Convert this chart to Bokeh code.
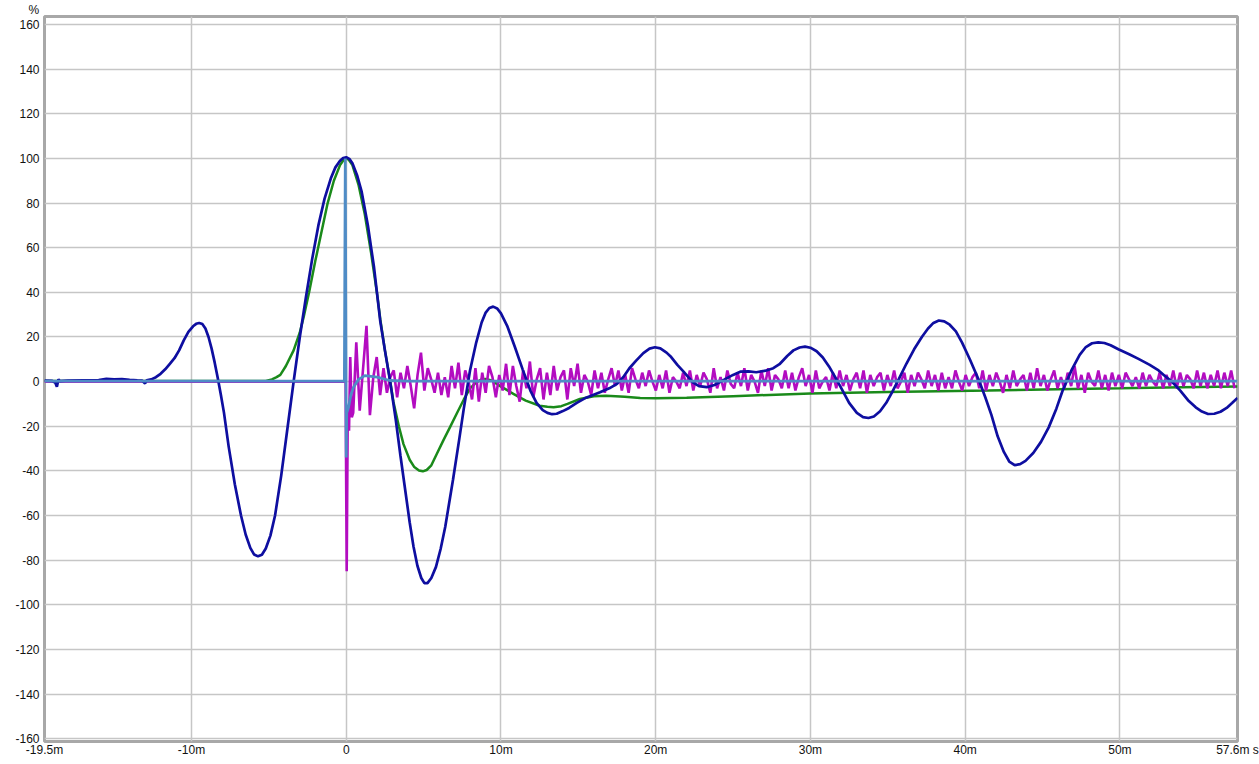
import numpy as np
from bokeh.plotting import figure
from bokeh.models import FixedTicker, Range1d, Title
from bokeh.embed import file_html
from bokeh.resources import INLINE

# ---------------- data (time in ms, amplitude in %) ----------------
x_ticks = [-19.5, -10, 0, 10, 20, 30, 40, 50, 57.6]
x_tick_labels = ["-19.5m", "-10m", "0", "10m", "20m", "30m", "40m", "50m", "57.6m s"]
y_ticks = list(range(-160, 161, 20))

blue_t = [-19.5, -19.0, -18.8, -18.7, -18.6, -18.5, -18.0, -17.0, -16.0, -15.5, -15.0, -14.5,
          -14.0, -13.5, -13.2, -13.0, -12.9, -12.6, -12.3, -12.0, -11.7, -11.4, -11.1, -10.8,
          -10.5, -10.2, -9.9, -9.7, -9.5, -9.3, -9.1, -8.9, -8.7, -8.5, -8.3, -8.1, -7.9, -7.6, -7.2,
          -6.8, -6.5, -6.2, -5.95, -5.7, -5.45, -5.2, -4.9, -4.6, -4.2, -3.8, -3.4, -3.0, -2.6, -2.2, -1.8,
          -1.4, -1.0, -0.7, -0.4, -0.2, 0.0, 0.2, 0.4, 0.7, 1.0, 1.4, 1.8, 2.2, 2.5, 2.84, 3.2, 3.5, 3.8,
          4.1, 4.35, 4.6, 4.85, 5.05, 5.25, 5.5, 5.8, 6.1, 6.4, 6.9, 7.3, 7.6, 8.0, 8.4, 8.75, 9.0, 9.25,
          9.5, 9.75, 10.0, 10.4, 10.9, 11.4, 11.9, 12.3, 12.7, 13.0, 13.3, 13.6, 14.0, 14.4, 14.9, 15.5,
          16.4, 17.0, 17.5, 17.9, 18.3, 18.75, 19.2, 19.6, 19.95, 20.3, 20.7, 21.0, 21.4, 21.8, 22.4,
          22.8, 23.3, 23.8, 24.4, 25.0, 25.5, 26.0, 26.5, 27.1, 27.6, 28.0, 28.5, 28.9, 29.3, 29.65,
          30.0, 30.4, 30.8, 31.2, 31.6, 32.0, 32.5, 33.0, 33.4, 33.75, 34.1, 34.5, 34.9, 35.3, 35.7,
          36.2, 36.7, 37.2, 37.6, 37.95, 38.3, 38.65, 39.0, 39.4, 39.8, 40.3, 40.9, 41.3, 41.7, 42.1,
          42.5, 42.85, 43.2, 43.55, 43.9, 44.4, 44.9, 45.4, 45.9, 46.3, 46.9, 47.4, 47.8, 48.2, 48.6,
          49.0, 49.4, 49.9, 50.6, 51.2, 51.9, 52.5, 53.0, 53.4, 53.9, 54.4, 54.9, 55.3, 55.7, 56.1,
          56.5, 56.9, 57.25, 57.6]
blue_v = [0.5, 0.3, -0.5, -2.3, 1.0, 0.2, 0.5, 0.6, 0.7, 1.2, 1.0, 1.1,
          0.8, 0.6, 0.5, -0.8, 0.6, 1.0, 2.0, 3.5, 5.5, 8.0, 10.5, 14.0,
          18.5, 22.3, 24.8, 25.9, 26.3, 25.8, 23.8, 20.0, 14.8, 8.5, 1.5, -6.0, -14.0, -29.0, -46.0,
          -60.0, -68.5, -74.5, -77.5, -78.3, -77.6, -74.8, -69.0, -60.0, -42.0, -21.0, 0.0, 20.0, 38.0, 55.0, 70.0,
          82.0, 91.0, 96.0, 99.0, 100.2, 100.5, 99.8, 97.8, 92.5, 85.0, 70.0, 51.0, 27.0, 14.0, 0.0, -17.0, -33.0, -48.0,
          -63.0, -74.0, -82.5, -88.0, -90.3, -90.3, -88.0, -83.0, -75.0, -65.0, -44.0, -26.0, -12.0, 5.0, 17.5, 26.5, 30.8, 33.0,
          33.6, 32.8, 30.6, 25.0, 15.5, 5.5, -4.0, -9.5, -12.8, -14.0, -14.6, -14.4, -13.2, -11.8, -9.5, -7.2,
          -4.8, -3.0, -1.0, 2.0, 6.0, 9.5, 12.8, 14.8, 15.4, 14.9, 13.0, 11.0, 7.5, 4.5, -0.3,
          -2.0, -2.5, -1.5, 0.8, 3.0, 4.5, 4.6, 4.2, 4.9, 6.0, 7.8, 11.5, 14.0, 15.3, 15.7,
          15.2, 13.6, 10.8, 6.8, 2.0, -3.0, -9.5, -14.0, -15.9, -16.3, -15.6, -13.3, -9.5, -4.5, 1.0,
          8.0, 14.5, 20.0, 23.8, 26.3, 27.4, 27.0, 25.5, 22.5, 17.5, 10.0, 0.4, -7.0, -15.0, -24.5,
          -31.5, -35.8, -37.4, -37.0, -35.5, -32.0, -27.0, -20.5, -12.0, -4.0, 5.5, 12.0, 15.5, 17.2, 17.6,
          17.3, 16.3, 14.5, 12.3, 10.2, 7.6, 5.0, 2.0, -0.3, -4.0, -8.3, -11.5, -13.4, -14.5, -14.4,
          -13.5, -11.8, -9.6, -7.3]

green_t = [-19.5, -5.2, -4.8, -4.5, -4.26, -3.9, -3.4, -3.0, -2.75, -2.4, -2.0, -1.6, -1.2,
           -0.8, -0.4, -0.15, 0.0, 0.15, 0.4, 0.8, 1.2, 1.6, 2.0, 2.2, 2.5, 2.8, 3.05, 3.4, 3.7, 4.1, 4.4,
           4.7, 4.95, 5.2, 5.5, 5.85, 6.3, 6.7, 7.2, 7.6, 8.0, 8.4, 8.7, 9.0, 9.4, 9.9, 10.4, 10.8, 11.6, 12.5,
           13.0, 13.4, 13.9, 14.3, 15.1, 16.0, 16.8, 18.0, 19.0, 20.0, 22.0, 25.0, 30.0, 35.0, 41.5, 46.0,
           50.0, 54.0, 57.6]
green_v = [0.3, 0.3, 1.0, 2.0, 3.0, 7.0, 14.0, 22.0, 29.0, 40.0, 54.0, 67.0, 80.0,
           90.0, 97.0, 99.5, 100.0, 99.5, 97.0, 88.0, 75.0, 58.0, 39.0, 28.0, 14.0, 2.0, -9.0, -20.0, -28.0, -35.0, -38.3,
           -39.8, -40.2, -39.6, -37.5, -32.4, -26.0, -20.5, -13.5, -8.0, -3.0, -0.3, 0.8, 1.2, 0.5, -1.8, -3.8, -5.5, -8.5, -10.8,
           -11.3, -11.5, -11.0, -10.0, -7.8, -6.6, -6.3, -6.8, -7.3, -7.4, -7.2, -6.5, -5.3, -4.6, -4.0, -3.4,
           -3.0, -2.5, -2.2]

lblue_t = [-19.5, -0.12, -0.06, 0.0, 0.03, 0.08, 0.15, 0.3, 0.47, 0.8, 1.2, 2.0, 2.8, 4.0, 57.6]
lblue_v = [0.2, 0.2, 100.0, -34.0, -14.0, -13.0, -11.5, -6.0, -2.5, 1.0, 2.7, 2.0, 0.5, 0.2, 0.2]

purple_head_t = [-19.5, -0.1, -0.05, 0.03, 0.1, 0.18, 0.26, 0.36, 0.45]
purple_head_v = [0.0, 0.0, 12.0, -85.0, -12.0, -22.0, 11.0, -16.0, -14.0]
purple_start = 0.65
purple_step = 0.22
purple_v = [
    17.6, -13, 6, 25, -15, 2, 11, -6, 6, -5, 2, 5, -7, 4,
    -3, 7, -2, -12, 3, 13, -4, 6, 1, -5, 4, -6, 2, -7,
    7, -3, 8.5, -6, 5, 0, -8, 6, -9, 4, -5, 7, 2, -7,
    3, -4, 8, -6, 7, -2, -9, 5, -3, 9, -7, 1, 6, -8,
    4, -6, 7, -4, 2, 5, -8, 6, -2, 8, -5, 3, 0, -6,
    5, -3, 4, -5, 1, 6, -2, 5, -4, 3, -5, 6, 1, -3,
    4, -2, 5, 0, -4, 3, -3, 5, -5, 2, 0, -3, 4, -2,
    5, -4, 3, -2, 4, 1, -5, 6, -3, 2, -4, 5, -1, -3,
    4, -2, 6, -4, 3, 0, -5, 5, -2, 6, -4, 3, 1, -3,
    5, -3, 4, -4, 2, 6, -2, 3, -5, 5, -3, 0, 2, -4,
    4, -3, 5, -2, 3, -4, 1, 4, -3, 5, -5, 3, -2, 2,
    4, -4, 3, -2, 5, -3, 0, 4, -5, 3, -2, 4, 1, -3,
    5, -2, 3, -4, 4, -3, 2, -3, 5, 0, -4, 3, -2, 2,
    4, -3, 5, -4, 3, -2, 4, 0, -5, 3, -3, 5, -2, 1,
    3, -4, 4, -3, 6, -2, 3, -4, 1, 5, -3, 2, -3, 4,
    -2, 7, -3, 3, -5, 4, 0, -2, 5, -3, 3, -4, 4, -2,
    3, -3, 4, 1, -2, 2, -3, 4, -2, 3, 0, -2, 4, -3,
    3, -2, 5, -3, 4, -2, 3, 1, -3, 5, -2, 4, -3, 3,
    -2, 5, -3, 4, -2, 5, -3, 0, 3, -2,
]

purple_t_all = purple_head_t + [round(purple_start + i * purple_step, 3) for i in range(len(purple_v))]
purple_v_all = purple_head_v + purple_v
# keep only samples within the visible time window
_pairs = [(t, v) for t, v in zip(purple_t_all, purple_v_all) if t <= 57.6]
purple_t_all = [a for a, _ in _pairs]
purple_v_all = [b for _, b in _pairs]

# ---------------- figure ----------------
FONT = "Liberation Sans"
p = figure(width=1259, height=760, output_backend="svg", toolbar_location=None,
           x_range=Range1d(-19.5, 57.6), y_range=Range1d(-161.25, 163.6),
           min_border_left=44, min_border_right=22, min_border_top=14, min_border_bottom=19)
p.background_fill_color = "white"
p.border_fill_color = "white"
p.outline_line_color = "#a8a8a8"
p.outline_line_width = 3

# unit label "%" above the y axis
p.add_layout(Title(text="%", align="left", offset=-16, standoff=0,
                   text_font=FONT, text_font_size="12px", text_font_style="normal",
                   text_color="#111111"), "above")

for ax in (p.xaxis[0], p.yaxis[0]):
    ax.axis_line_color = None
    ax.major_tick_line_color = None
    ax.minor_tick_line_color = None
    ax.major_tick_in = 0
    ax.major_tick_out = 0
    ax.minor_tick_in = 0
    ax.minor_tick_out = 0
    ax.major_label_text_font = FONT
    ax.major_label_text_font_size = "12px"
    ax.major_label_text_color = "#111111"

p.xaxis.ticker = FixedTicker(ticks=x_ticks)
p.xaxis.major_label_overrides = {t: s for t, s in zip(x_ticks, x_tick_labels)}
p.xaxis.major_label_standoff = 1
p.yaxis.ticker = FixedTicker(ticks=y_ticks)
p.yaxis.major_label_overrides = {t: str(t) for t in y_ticks}
p.yaxis.major_label_standoff = 5

p.xgrid.ticker = FixedTicker(ticks=x_ticks)
p.ygrid.ticker = FixedTicker(ticks=y_ticks)
for g in (p.xgrid[0], p.ygrid[0]):
    g.grid_line_color = "#c6c6c6"
    g.grid_line_width = 1.5

p.line(green_t, green_v, line_color="#1a8a1a", line_width=2.5)
p.line(purple_t_all, purple_v_all, line_color="#b30cc0", line_width=2.6)
p.line(blue_t, blue_v, line_color="#0e0ea0", line_width=2.7)
p.line(lblue_t, lblue_v, line_color="#4f8cc6", line_width=2.8)

open("out.html", "w").write(file_html(p, INLINE))
